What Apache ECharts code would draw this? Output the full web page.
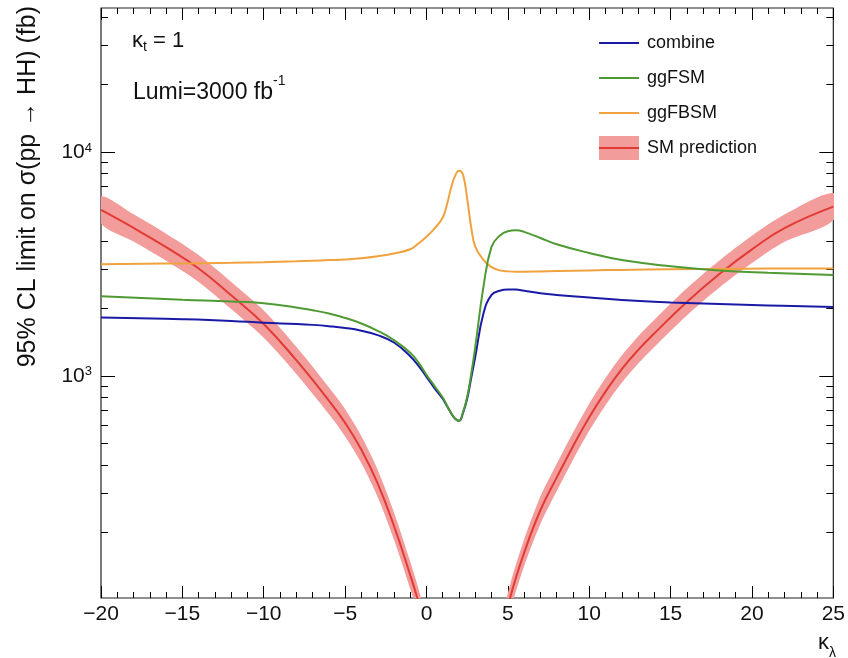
<!DOCTYPE html>
<html><head><meta charset="utf-8">
<script src="https://cdn.jsdelivr.net/npm/echarts@6/dist/echarts.min.js"></script>
<style>html,body{margin:0;padding:0;background:#fff}#c{width:848px;height:658px}</style>
</head><body><div id="c"></div>
<script>
// ---- data ----
const kappa = [-20,-15,-12,-10,-8,-7,-6,-5,-4,-3,-2,-1,-0.5,0,0.5,1,1.25,1.5,1.75,2,2.25,2.5,2.75,3,3.5,4,4.5,5,5.5,6,7,8,10,12,15,18,21,25];
const combine = [1824,1790,1760,1727,1705,1690,1668,1638,1592,1520,1410,1225,1110,990,880,790,735,685,645,630,685,790,980,1220,1900,2300,2400,2430,2430,2400,2340,2300,2240,2180,2130,2095,2065,2033];
const ggFSM   = [2270,2190,2150,2110,2020,1965,1900,1815,1715,1590,1445,1270,1150,1010,900,800,740,685,645,630,690,805,1020,1350,2500,3780,4230,4430,4470,4400,4130,3870,3540,3290,3090,2960,2890,2820];
const ggFBSM  = [3150,3180,3200,3220,3250,3270,3290,3310,3350,3420,3520,3680,3900,4180,4560,5100,5800,6850,7800,8250,7900,6200,4600,3780,3300,3060,2960,2930,2920,2920,2930,2940,2960,2975,2995,3005,3015,3020];

const smKappaLeft   = [-20,-18,-16,-14,-12,-10,-8,-6,-5,-4,-3,-2,-1,-0.57,0,0.5];
const smCentralLeft = [5510,4580,3760,3020,2290,1706,1175,776,617,468,331,214,129,102,71,40];
const smUpperLeft   = [6340,5270,4320,3470,2630,1960,1350,890,710,538,381,246,148,117,82,46];
const smLowerLeft   = [4790,3980,3270,2630,1990,1480,1020,675,536,407,288,186,112,89,62,35];

const smKappaRight   = [4.5,5.14,6,7,8,9,10,11,12,13,14,16,18,20,22,25];
const smCentralRight = [63,102,162,251,351,484,653,851,1072,1303,1549,2138,2851,3673,4571,5700];
const smUpperRight   = [73,117,186,289,404,557,751,979,1233,1500,1780,2460,3280,4230,5260,6560];
const smLowerRight   = [55,89,141,218,305,421,568,740,932,1133,1347,1860,2480,3190,3970,4960];

const yMajorTicks = [1000,10000];
const yMinorTicks = [200,300,400,500,600,700,800,900,2000,3000,4000,5000,6000,7000,8000,9000,20000,30000,40000];
const xMin = -20, xMax = 25, xStep = 5;
const yMin = 101.8, yMax = 44000;

// ---- chart ----
const FONT = '"Liberation Sans", Arial, Helvetica, sans-serif';
const INK = '#111';
const C_BLUE = '#1a1aa6', C_GREEN = '#4f9a33', C_ORANGE = '#f0a23e', C_RED = '#e23b35', C_BAND = '#f29c9c';
const LINE_ICON = 'path://M0,0H40V2H0Z';

const pairs = (xs, ys) => xs.map((x, i) => [x, ys[i]]);
const bands = [
  {k: smKappaLeft, up: smUpperLeft, lo: smLowerLeft},
  {k: smKappaRight, up: smUpperRight, lo: smLowerRight}
];

const chart = echarts.init(document.getElementById('c'), null, {renderer: 'canvas'});

const xAxisBase = {
  type: 'value', min: xMin, max: xMax, interval: xStep,
  splitLine: {show: false},
  axisLine: {show: false, onZero: false},
  axisTick: {show: true, inside: true, length: 12, lineStyle: {color: '#000', width: 1}},
  minorTick: {show: true, splitNumber: 5, length: 6, lineStyle: {color: '#000', width: 1}},
};
const yMajor = (pos, labels) => ({
  type: 'log', min: yMin, max: yMax, position: pos,
  splitLine: {show: false}, axisLine: {show: false, onZero: false},
  axisTick: {show: true, inside: true, length: 14, customValues: yMajorTicks, lineStyle: {color: '#000', width: 1}},
  axisLabel: labels ? {
    show: true, customValues: yMajorTicks, margin: 9, color: INK, fontSize: 21, fontFamily: FONT,
    formatter: v => '10{s|' + Math.round(Math.log10(v)) + '}',
    rich: {s: {fontSize: 13, fontFamily: FONT, color: INK, verticalAlign: 'top', lineHeight: 13}}
  } : {show: false}
});
const yMinor = (pos) => ({
  type: 'log', min: yMin, max: yMax, position: pos,
  splitLine: {show: false}, axisLine: {show: false, onZero: false},
  axisTick: {show: true, inside: true, length: 7, customValues: yMinorTicks, lineStyle: {color: '#000', width: 1}},
  axisLabel: {show: false}
});

const lineSeries = (name, xs, ys, color, z) => ({
  name, type: 'line', data: pairs(xs, ys), smooth: 0.45, symbol: 'none', showSymbol: false, z,
  lineStyle: {color, width: 2}, itemStyle: {color}
});

const option = {
  animation: false,
  backgroundColor: '#fff',
  grid: {left: 101, right: 12, top: 8, bottom: 60, show: true, borderColor: '#222', borderWidth: 1.2, backgroundColor: 'transparent'},
  xAxis: [
    Object.assign({}, xAxisBase, {position: 'bottom',
      axisLabel: {show: true, margin: 6, color: INK, fontSize: 21, fontFamily: FONT,
        formatter: v => v < 0 ? '\u2212' + Math.abs(v) : String(v)}}),
    Object.assign({}, xAxisBase, {position: 'top', axisLabel: {show: false}})
  ],
  yAxis: [yMajor('left', true), yMinor('left'), yMajor('right', false), yMinor('right')],
  legend: {
    orient: 'vertical', left: 599, top: 31, padding: 0, itemWidth: 40, itemHeight: 24, itemGap: 11,
    selectedMode: false,
    textStyle: {fontSize: 18, lineHeight: 24, color: INK, fontFamily: FONT, padding: [0, 0, 0, 3]},
    data: [
      {name: 'combine', icon: LINE_ICON}, {name: 'ggFSM', icon: LINE_ICON}, {name: 'ggFBSM', icon: LINE_ICON},
      {name: 'SM prediction', icon: 'rect'}
    ]
  },
  series: [
    {
      name: 'SM prediction', type: 'custom', clip: true, z: 1,
      itemStyle: {color: C_BAND},
      encode: {x: 0, y: 1},
      data: [[smKappaLeft[0], smCentralLeft[0], 0], [smKappaRight[smKappaRight.length - 1], smCentralRight[smCentralRight.length - 1], 1]],
      renderItem: (params, api) => {
        const b = bands[api.value(2)];
        const pts = [];
        b.k.forEach((k, i) => pts.push(api.coord([k, b.up[i]])));
        for (let i = b.k.length - 1; i >= 0; i--) pts.push(api.coord([b.k[i], b.lo[i]]));
        return {type: 'polygon', shape: {points: pts, smooth: 0.3}, style: {fill: C_BAND}};
      }
    },
    lineSeries('SM prediction', smKappaLeft, smCentralLeft, C_RED, 2),
    lineSeries('SM prediction', smKappaRight, smCentralRight, C_RED, 2),
    lineSeries('ggFBSM', kappa, ggFBSM, C_ORANGE, 3),
    lineSeries('ggFSM', kappa, ggFSM, C_GREEN, 4),
    lineSeries('combine', kappa, combine, C_BLUE, 3)
  ],
  graphic: [
    {type: 'line', z: 100, shape: {x1: 599, y1: 148, x2: 639, y2: 148}, style: {stroke: C_RED, lineWidth: 2}},
    {type: 'text', x: 28, y: 6, rotation: Math.PI / 2,
      style: {text: '95% CL limit on \u03c3(pp \u2192 HH) (fb)', font: '25px ' + FONT, fill: INK, textAlign: 'right', textVerticalAlign: 'middle'}},
    {type: 'text', x: 132, y: 30,
      style: {text: '{a|\u03ba}{b|t}{a| = 1}', fill: INK, textVerticalAlign: 'top',
        rich: {a: {fontSize: 22, fontFamily: FONT, fill: INK, lineHeight: 24, verticalAlign: 'top'},
               b: {fontSize: 14, fontFamily: FONT, fill: INK, lineHeight: 14, verticalAlign: 'bottom'}}}},
    {type: 'text', x: 133, y: 74,
      style: {text: '{a|Lumi=3000 fb}{b|-1}', fill: INK, textVerticalAlign: 'top',
        rich: {a: {fontSize: 23, fontFamily: FONT, fill: INK, lineHeight: 30, verticalAlign: 'bottom'},
               b: {fontSize: 14, fontFamily: FONT, fill: INK, lineHeight: 14, verticalAlign: 'top'}}}},
    {type: 'text', x: 836, y: 632,
      style: {text: '{a|\u03ba}{b|\u03bb}', fill: INK, textAlign: 'right', textVerticalAlign: 'top',
        rich: {a: {fontSize: 22, fontFamily: FONT, fill: INK, lineHeight: 22, verticalAlign: 'top'},
               b: {fontSize: 14, fontFamily: FONT, fill: INK, lineHeight: 28, verticalAlign: 'bottom'}}}}
  ]
};
chart.setOption(option);
</script>
</body></html>
